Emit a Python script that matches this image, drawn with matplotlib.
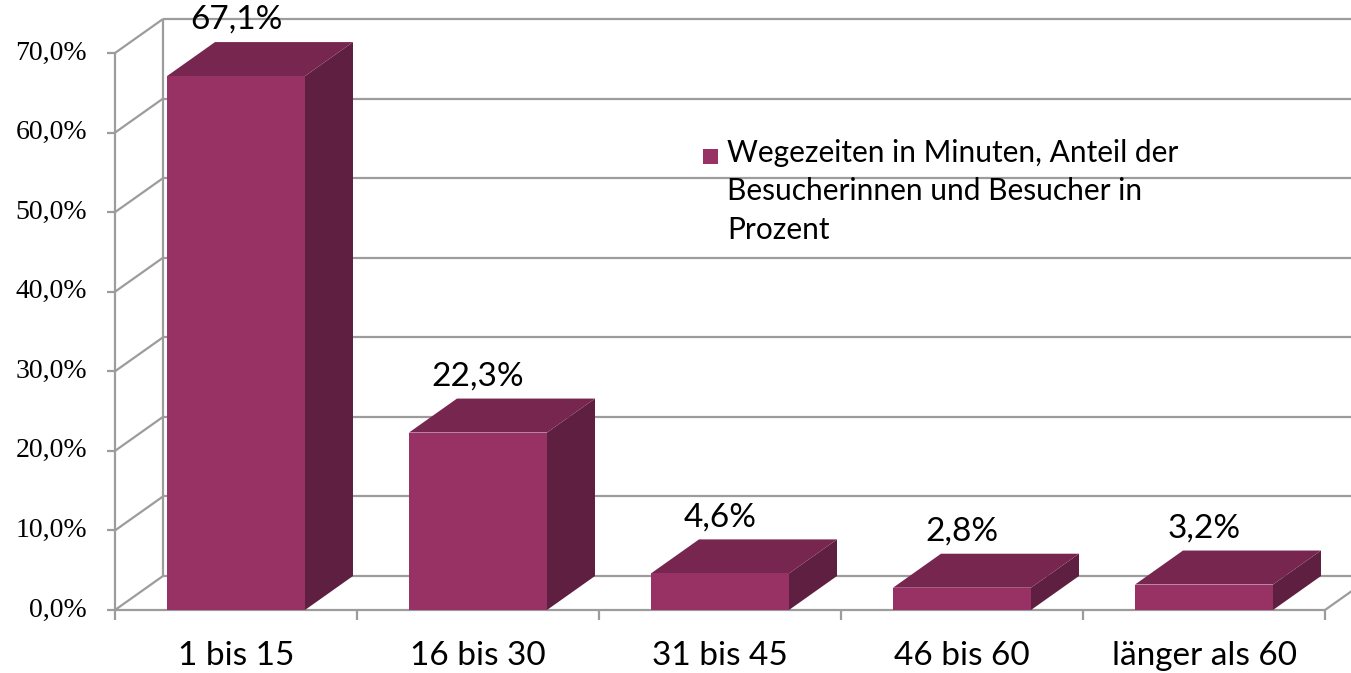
import matplotlib.pyplot as plt
from matplotlib.patches import Polygon, Rectangle

categories = ["1 bis 15", "16 bis 30", "31 bis 45", "46 bis 60", "länger als 60"]
values = [67.1, 22.3, 4.6, 2.8, 3.2]
value_labels = ["67,1%", "22,3%", "4,6%", "2,8%", "3,2%"]
y_ticks = [0, 10, 20, 30, 40, 50, 60, 70]
y_tick_labels = ["0,0%", "10,0%", "20,0%", "30,0%", "40,0%", "50,0%", "60,0%", "70,0%"]
legend_label = "Wegezeiten in Minuten, Anteil der\nBesucherinnen und Besucher in\nProzent"

c_front = "#993264"
c_top = "#76264f"
c_side = "#5f1f41"
c_grid = "#9c9c9c"

W, H = 1351, 673
fig = plt.figure(figsize=(W / 100, H / 100), dpi=100)
ax = fig.add_axes([0, 0, 1, 1])
ax.axis("off")

# pixel calibration: category width 242 px, first center at x=236, 0% at y=610, 7.957 px per %
cat_px = 242.0
pct_px = 7.957
ax.set_xlim(-236 / cat_px, (W - 236) / cat_px)
ax.set_ylim(-(H - 610) / pct_px, 610 / pct_px)

# 3d depth offsets in data units
dx = 48 / cat_px
dy = 34 / pct_px
bar_w = 138 / cat_px
x0 = -0.5
x1 = len(categories) - 0.5
xr = ax.get_xlim()[1]
lkw = dict(color=c_grid, lw=1.6, solid_capstyle="butt", zorder=1)

# back wall gridlines, left wall diagonals, y ticks
for v in y_ticks:
    ax.plot([x0 + dx, xr], [v + dy, v + dy], **lkw)
    ax.plot([x0, x0 + dx], [v, v + dy], **lkw)
    ax.plot([x0 - 8 / cat_px, x0], [v, v], **lkw)
ax.plot([x0, x0], [0, y_ticks[-1]], **lkw)
ax.plot([x0 + dx, x0 + dx], [dy, y_ticks[-1] + dy], **lkw)
# floor front edge and right diagonal
ax.plot([x0, x1], [0, 0], **lkw)
ax.plot([x1, x1 + dx], [0, dy], **lkw)
for i in range(len(categories) + 1):
    ax.plot([x0 + i, x0 + i], [0, -10 / pct_px], **lkw)

for i, v in enumerate(values):
    l, r = i - bar_w / 2, i + bar_w / 2
    ax.add_patch(Polygon([(r, 0), (r + dx, dy), (r + dx, v + dy), (r, v)],
                         closed=True, fc=c_side, ec="none", zorder=3))
    ax.add_patch(Polygon([(l, v), (r, v), (r + dx, v + dy), (l + dx, v + dy)],
                         closed=True, fc=c_top, ec="none", zorder=3))
    ax.add_patch(Rectangle((l, 0), bar_w, v, fc=c_front, ec="none", zorder=3))
    ax.text(i, v + dy + 2.8, value_labels[i], ha="center", va="center",
            fontsize=24, family="Lato", zorder=5)

for i, lab in enumerate(categories):
    ax.text(i, -46 / pct_px, lab, ha="center", va="center", fontsize=24, family="Lato")

for v, lab in zip(y_ticks, y_tick_labels):
    ax.text(x0 - 28 / cat_px, v, lab, ha="right", va="center", fontsize=20,
            family="Liberation Serif")

# legend
fig.patches.append(Rectangle((703 / W, 1 - 164 / H), 15 / W, 15 / H, transform=fig.transFigure,
                             fc=c_front, ec="none"))
fig.text(727 / W, 1 - 139 / H, legend_label, ha="left", va="top", fontsize=21.5, family="Lato",
         linespacing=1.45, transform=fig.transFigure)

fig.savefig("out.png", dpi=100, facecolor="white")
